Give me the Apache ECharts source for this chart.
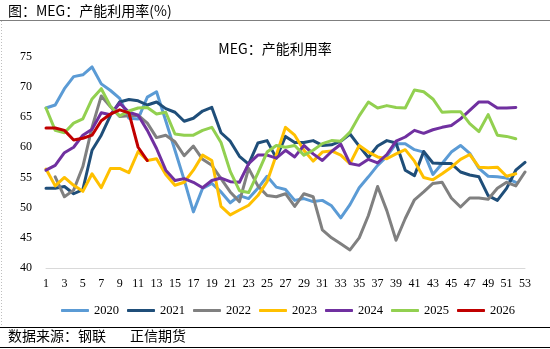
<!DOCTYPE html>
<html>
<head>
<meta charset="utf-8">
<script src="https://cdn.jsdelivr.net/npm/echarts@6/dist/echarts.min.js"></script>
<style>
  html, body { margin: 0; padding: 0; background: #fff; }
  #chart { width: 550px; height: 349px; }
</style>
</head>
<body>
<div id="chart"></div>
<script>
// Week numbers on the category axis
const weeks = Array.from({ length: 53 }, (_, i) => String(i + 1));

// MEG capacity utilisation (%), weekly, one array per year
const y2020 = [66.5, 67.0, 69.7, 71.7, 72.0, 73.3, 70.5, 69.4, 68.1, 64.8, 64.7, 68.3, 69.2, 64.4, 59.5, 54.6, 49.3, 53.2, 54.0, 52.6,
  50.8, 52.0, 51.5, 53.2, 55.2, 53.4, 53.0, 51.2, 51.5, 51.0, 51.2, 50.3, 48.3, 50.5, 53.3, 55.1, 57.0, 58.5, 60.6, 60.6,
  59.6, 59.2, 55.5, 57.3, 59.2, 60.3, 59.0, 56.5, 55.2, 55.1, 54.9, 54.2];
const y2021 = [53.2, 53.2, 53.5, 52.3, 53.0, 59.5, 62.0, 65.3, 67.5, 67.9, 67.7, 67.0, 67.5, 66.4, 65.8, 64.3, 64.8, 66.0, 66.6, 62.4,
  61.0, 58.5, 57.2, 60.7, 61.1, 58.2, 61.8, 60.8, 60.8, 61.1, 60.3, 60.4, 61.0, 62.2, 60.2, 58.3, 60.2, 61.1, 60.7, 56.2,
  55.3, 59.3, 57.4, 57.3, 57.3, 55.9, 55.4, 55.1, 52.0, 51.2, 53.2, 56.2, 57.5];
const y2022 = [null, 55.1, 51.8, 52.9, 56.8, 63.3, 68.5, 66.7, 65.1, 65.2, 65.3, 64.0, 61.6, 62.0, 60.9, 58.6, 60.2, 58.0, 57.0, 54.8,
  52.6, 51.0, 56.5, 53.6, 52.0, 51.8, 52.3, 50.2, 52.3, 51.8, 46.3, 45.0, 44.0, 43.0, 45.0, 48.7, 53.5, 49.5, 44.6, 48.2,
  51.3, 52.6, 54.0, 54.2, 51.6, 50.1, 51.6, 51.6, 51.4, 53.2, 54.2, 53.6, 55.9];
const y2023 = [56.4, 53.6, 55.0, 53.7, 52.7, 55.6, 53.3, 56.5, 56.5, 55.8, 59.3, 57.8, 58.1, 55.5, 53.7, 54.2, 56.2, 58.7, 57.8, 50.2,
  48.8, 49.6, 50.4, 52.0, 54.3, 58.7, 63.3, 62.0, 59.5, 57.7, 59.2, 59.4, 58.7, 57.3, 60.3, 59.2, 58.4, 58.1, 58.9, 59.6,
  57.7, 55.0, 54.6, 55.6, 56.7, 58.0, 58.8, 56.7, 56.6, 56.7, 55.2, 55.6];
const y2024 = [56.2, 57.0, 59.1, 60.0, 62.0, 63.0, 65.7, 65.4, 67.3, 65.8, 65.3, 62.8, 59.8, 56.2, 54.5, 54.8, 54.2, 53.3, 54.5, 54.9,
  54.3, 54.2, 57.3, 58.7, 58.7, 58.2, 59.5, 58.4, 60.3, 58.9, 57.8, 59.3, 60.5, 57.3, 57.0, 58.0, 57.4, 58.8, 61.0, 61.7,
  62.8, 62.3, 62.9, 63.3, 63.6, 64.7, 66.1, 67.5, 67.5, 66.5, 66.5, 66.6];
const y2025 = [66.5, 62.8, 62.4, 64.0, 64.7, 68.0, 69.7, 66.8, 65.2, 66.0, 66.5, 66.6, 65.5, 65.8, 62.2, 62.0, 62.0, 62.8, 63.3, 60.8,
  56.0, 52.8, 52.5, 55.7, 59.2, 60.3, 60.0, 60.3, 58.7, 59.5, 60.6, 61.1, 61.0, 62.5, 65.2, 67.5, 66.5, 66.9, 66.6, 66.5,
  69.5, 69.2, 68.0, 65.8, 65.9, 65.9, 63.9, 62.6, 65.4, 62.0, 61.8, 61.4];
const y2026 = [63.2, 63.2, 62.8, 61.2, 61.5, 62.0, 64.4, 65.5, 66.2, 65.7, 60.0, 57.8];

const years = ['2020', '2021', '2022', '2023', '2024', '2025', '2026'];
const values = [y2020, y2021, y2022, y2023, y2024, y2025, y2026];
const colors = ['#5B9BD5', '#1F4E79', '#808080', '#FFC000', '#7030A0', '#92D050', '#C00000'];

const yTicks = { min: 40, max: 75, step: 5 };

const CJK = '"Noto Sans CJK SC", sans-serif';
const NUM = '"Liberation Serif", serif';

const chart = echarts.init(document.getElementById('chart'), null, { renderer: 'canvas' });

chart.setOption({
  animation: false,
  backgroundColor: '#fff',
  title: {
    text: 'MEG：产能利用率',
    left: 'center',
    top: 37,
    textStyle: { fontFamily: CJK, fontSize: 14, fontWeight: 'normal', color: '#000' }
  },
  grid: { left: 46, right: 25, top: 56.7, bottom: 81 },
  legend: {
    data: years,
    left: 56,
    top: 299,
    icon: 'roundRect',
    itemWidth: 28,
    itemHeight: 3,
    itemGap: 8,
    textStyle: { fontFamily: NUM, fontSize: 12.5, color: '#000' }
  },
  xAxis: {
    type: 'category',
    data: weeks,
    boundaryGap: false,
    axisLine: { lineStyle: { color: '#D9D9D9', width: 1 } },
    axisTick: { show: false },
    axisLabel: { interval: 1, margin: 10, fontFamily: NUM, fontSize: 12, color: '#000' },
    splitLine: { show: false }
  },
  yAxis: {
    type: 'value',
    min: yTicks.min,
    max: yTicks.max,
    interval: yTicks.step,
    axisLine: { show: false },
    axisTick: { show: false },
    splitLine: { show: false },
    axisLabel: { margin: 14, fontFamily: NUM, fontSize: 12, color: '#000' }
  },
  series: years.map((name, i) => ({
    name,
    type: 'line',
    data: values[i],
    symbol: 'none',
    showSymbol: false,
    color: colors[i],
    lineStyle: { width: 3, color: colors[i], cap: 'round', join: 'round' },
    z: 2 + i
  })),
  graphic: [
    {
      type: 'text', left: 8, top: 4,
      style: { text: '图：MEG：产能利用率(%)', font: '14px ' + CJK, fill: '#000' }
    },
    {
      type: 'line', shape: { x1: 0, y1: 20.5, x2: 550, y2: 20.5 },
      style: { stroke: '#7f7f7f', lineWidth: 1 }
    },
    {
      type: 'line', shape: { x1: 1.5, y1: 21, x2: 1.5, y2: 327 },
      style: { stroke: '#bfbfbf', lineWidth: 1, lineDash: [1, 2] }
    },
    {
      type: 'line', shape: { x1: 0, y1: 327.5, x2: 550, y2: 327.5 },
      style: { stroke: '#000', lineWidth: 1 }
    },
    {
      type: 'text', left: 8, top: 329,
      style: { text: '数据来源：钢联', font: '14px ' + CJK, fill: '#000' }
    },
    {
      type: 'text', left: 130, top: 329,
      style: { text: '正信期货', font: '14px ' + CJK, fill: '#000' }
    },
    {
      type: 'line', shape: { x1: 0, y1: 347.5, x2: 550, y2: 347.5 },
      style: { stroke: '#000', lineWidth: 1 }
    }
  ]
});
</script>
</body>
</html>
